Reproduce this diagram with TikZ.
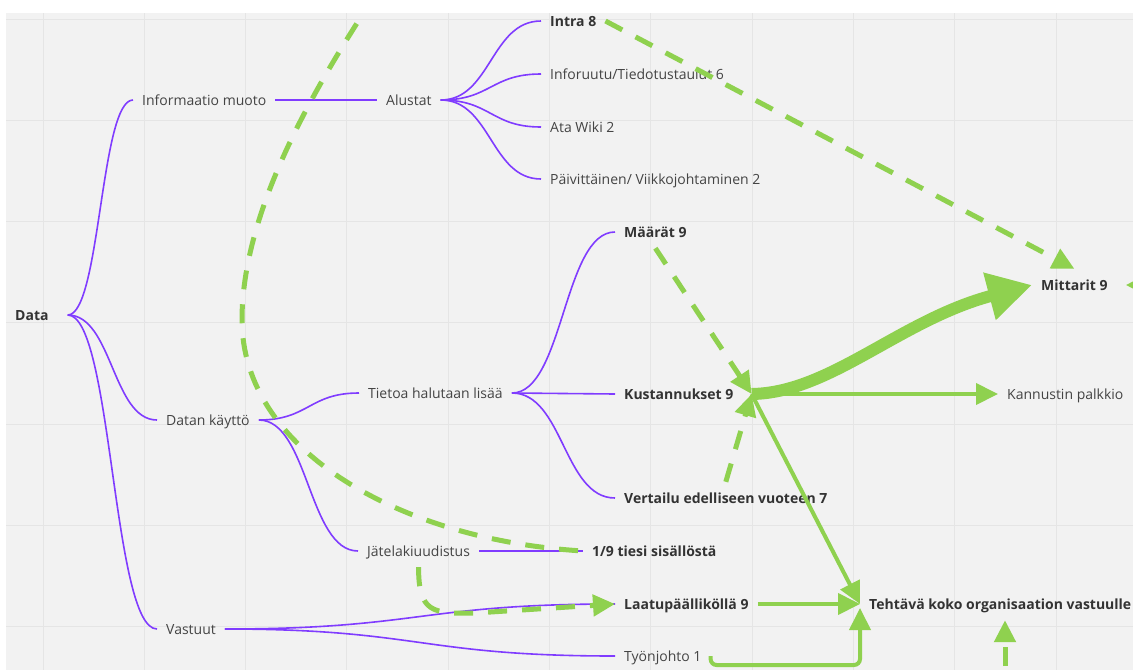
\documentclass[tikz,border=0pt]{standalone}
\usepackage{fontspec}
\setmainfont{Open Sans}
\usepackage{tikz}
\definecolor{miroviolet}{RGB}{128,60,255}
\definecolor{mirogreen}{RGB}{143,209,79}
\definecolor{boardgrey}{RGB}{242,242,242}
\definecolor{gridgrey}{RGB}{229,229,229}
\definecolor{textgrey}{RGB}{68,68,68}
\definecolor{textdark}{RGB}{51,51,51}
\usetikzlibrary{arrows.meta}
\usetikzlibrary{calc}
\usetikzlibrary{positioning}
\tikzset{branch/.style={draw=miroviolet,line width=1.6pt,
    to path={let \p1=(\tikztostart), \p2=(\tikztotarget), \n1={(\x1+\x2)/2} in
      .. controls (\n1,\y1) and (\n1,\y2) .. (\tikztotarget)}}}
\tikzset{gridLine/.style={draw=gridgrey,line width=1pt}}

\begin{document}
\begin{tikzpicture}[x=1pt,y=-1pt,
	mapNode/.style={anchor=west,font=\fontsize{14}{17}\selectfont,text=textgrey,inner xsep=9pt,inner ysep=11pt,text height=10pt,text depth=0pt},
	keyNode/.style={mapNode,font=\fontsize{14}{17}\selectfont\bfseries,text=textdark},
	greenLine/.style={draw=mirogreen,line width=4pt},
	greenDash/.style={draw=mirogreen,line width=5pt,dash pattern=on 19pt off 15pt},
	arrowTip/.style={-{Triangle[length=22pt,width=21pt]}}]
	\useasboundingbox (0,0) rectangle (1133,670);
	\fill[white] (0,0) rectangle (1133,670);
	\fill[boardgrey] (6,13) rectangle (1133,670);
	\begin{scope}
	\clip (6,13) rectangle (1133,670);
	\foreach \gx in {0,...,10}
		\draw[gridLine] ({43+101.3*\gx},13) -- ({43+101.3*\gx},670);
	\foreach \gy in {0,...,6}
		\draw[gridLine] (6,{19+101.3*\gy}) -- (1133,{19+101.3*\gy});
	% mind map
	\node[keyNode] (data) at (6,315) {Data};
	\node[mapNode] (info) at (133,100) {Informaatio muoto};
	\node[mapNode] (alustat) at (377,100) {Alustat};
	\node[keyNode] (intra) at (541,21) {Intra 8};
	\node[mapNode,below=53pt of intra.west,anchor=west] (inforuutu) {Inforuutu/Tiedotustaulut 6};
	\node[mapNode,below=53pt of inforuutu.west,anchor=west] (ata) {Ata Wiki 2};
	\node[mapNode,below=52pt of ata.west,anchor=west] (paiv) {Päivittäinen/ Viikkojohtaminen 2};
	\node[mapNode] (kaytto) at (157,420) {Datan käyttö};
	\node[mapNode] (tietoa) at (359,393) {Tietoa halutaan lisää};
	\node[mapNode] (jate) at (358,551) {Jätelakiuudistus};
	\node[keyNode] (maarat) at (615,232) {Määrät 9};
	\node[keyNode] (kust) at (615,394) {Kustannukset 9};
	\node[keyNode] (vert) at (615,498) {Vertailu edelliseen vuoteen 7};
	\node[keyNode] (tiesi) at (583,551) {1/9 tiesi sisällöstä};
	\node[mapNode] (vastuut) at (157,629) {Vastuut};
	\node[keyNode] (laatu) at (615,604) {Laatupäälliköllä 9};
	\node[mapNode,below=52pt of laatu.west,anchor=west] (tyon) {Työnjohto 1};
	\node[keyNode] (mitt) at (1032,285) {Mittarit 9};
	\node[mapNode] (kann) at (998,394) {Kannustin palkkio};
	\node[keyNode] (teh) at (860,604) {Tehtävä koko organisaation vastuulle};
	\coordinate (dataR) at ([xshift=10pt]data.east);
	\coordinate (kustR) at ([xshift=9pt]kust.east);
	\coordinate (mittR) at ([xshift=9pt]mitt.east);
	\coordinate (topIn) at (375,-5);
	\coordinate (rightIn) at (1170,285);
	\coordinate (bottomIn) at (1005,700);
	\draw[branch] (dataR) to (info.west);
	\draw[branch] (dataR) to (kaytto.west);
	\draw[branch] (dataR) to (vastuut.west);
	\draw[branch] (info.east) to (alustat.west);
	\foreach \leaf in {intra,inforuutu,ata,paiv}
		\draw[branch] (alustat.east) to (\leaf.west);
	\foreach \leaf in {tietoa,jate}
		\draw[branch] (kaytto.east) to (\leaf.west);
	\foreach \leaf in {maarat,kust,vert}
		\draw[branch] (tietoa.east) to (\leaf.west);
	\draw[branch] (jate.east) to (tiesi.west);
	\foreach \leaf in {laatu,tyon}
		\draw[branch] (vastuut.east) to (\leaf.west);
	% links
	\draw[greenDash] (topIn) .. controls (330,65) and (242,200) .. (242,320) .. controls (242,450) and (400,540) .. (tiesi.west);
	\draw[greenDash,arrowTip] (intra.east) -- (mitt.north);
	\draw[greenDash,arrowTip] (maarat.south) -- (kustR);
	\draw[greenDash,arrowTip] (vert.north) -- (kustR);
	\draw[greenDash,arrowTip] (jate.south) .. controls +(0,45) and (432,614) .. (475,613) -- (laatu.west);
	\draw[greenDash,arrowTip] (bottomIn) -- (teh.south -| bottomIn);
	\draw[greenLine,arrowTip] (rightIn) -- (mittR);
	\draw[greenLine,line width=12pt,-{Triangle[length=44pt,width=46pt]}] (kustR) .. controls (830,393) and (900,320) .. (mitt.west);
	\draw[greenLine,arrowTip] (kustR) -- (kann.west);
	\draw[greenLine,arrowTip] (kustR) -- (teh.west);
	\draw[greenLine,arrowTip] (laatu.east) -- (teh.west);
	\draw[greenLine,arrowTip,rounded corners=6pt] (tyon.east) -- ++(0,9) -| ([yshift=-4pt]teh.west);
	\end{scope}
\end{tikzpicture}
\end{document}
